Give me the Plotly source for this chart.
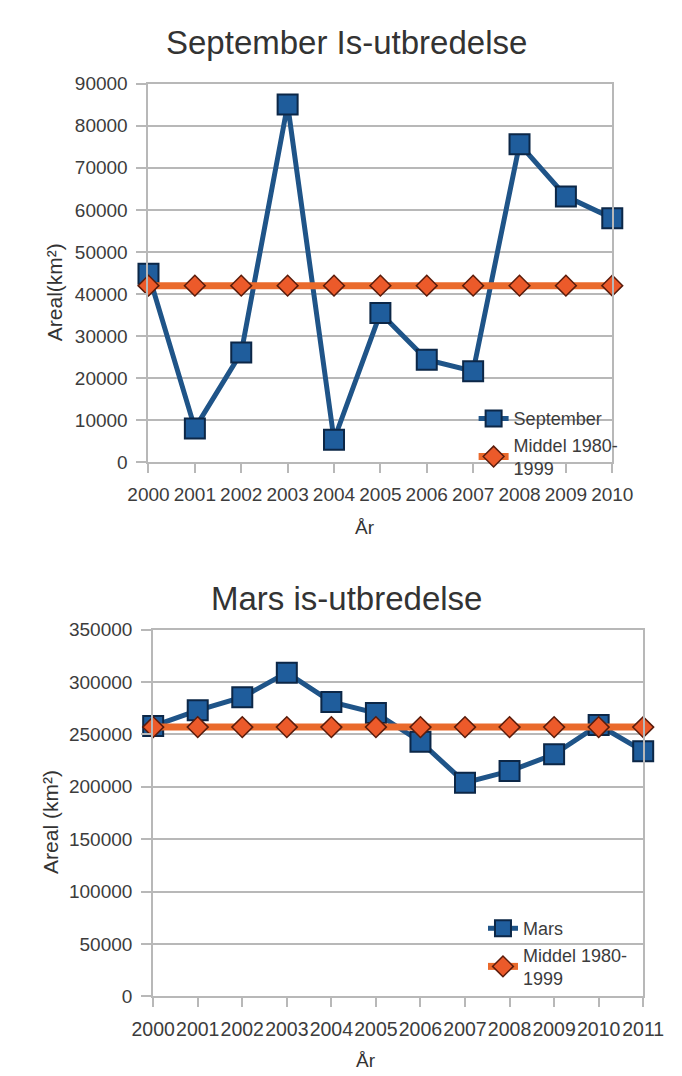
import plotly.graph_objects as go

# ---- data ----
years_sep = [2000, 2001, 2002, 2003, 2004, 2005, 2006, 2007, 2008, 2009, 2010]
sep_values = [44800, 8100, 26100, 85000, 5400, 35500, 24400, 21700, 75600, 63200, 58000]
sep_mean = [42000] * len(years_sep)

years_mar = [2000, 2001, 2002, 2003, 2004, 2005, 2006, 2007, 2008, 2009, 2010, 2011]
mar_values = [258000, 273000, 285500, 309000, 281000, 270500, 243000, 204000, 215000, 231000, 259000, 234000]
mar_mean = [257000] * len(years_mar)

title_sep = "September Is-utbredelse"
title_mar = "Mars is-utbredelse"
ytitle_sep = "Areal(km²)"
ytitle_mar = "Areal (km²)"
xtitle = "År"
name_sep = "September"
name_mar = "Mars"
name_mean = "Middel 1980-<br>1999"

W, H = 682, 1076
FONT = "Liberation Sans, Arial, sans-serif"
BLUE_LINE = "#1f5488"
BLUE_FILL = "#1f5d9c"
BLUE_EDGE = "#0c2747"
ORANGE_LINE = "#ea6a2c"
ORANGE_FILL = "#ec5a2a"
ORANGE_EDGE = "#5a1c0c"
GRID = "#b8b8b8"
TXT = "#3c3c3c"

def px_x(p):
    return p / W

def px_y(p):
    return 1 - p / H

fig = go.Figure()

def add_series(x, y, name, xa, ya, legend, blue):
    if blue:
        fig.add_trace(go.Scatter(
            x=x, y=y, name=name, mode="lines+markers", xaxis=xa, yaxis=ya,
            legend=legend, cliponaxis=False,
            line=dict(color=BLUE_LINE, width=5),
            marker=dict(symbol="square", size=20, color=BLUE_FILL,
                        line=dict(color=BLUE_EDGE, width=2))))
    else:
        fig.add_trace(go.Scatter(
            x=x, y=y, name=name, mode="lines+markers", xaxis=xa, yaxis=ya,
            legend=legend, cliponaxis=False,
            line=dict(color=ORANGE_LINE, width=7),
            marker=dict(symbol="diamond", size=16, color=ORANGE_FILL,
                        line=dict(color=ORANGE_EDGE, width=1.5))))

add_series(years_sep, sep_values, name_sep, "x", "y", "legend", True)
add_series(years_sep, sep_mean, name_mean, "x", "y", "legend", False)
add_series(years_mar, mar_values, name_mar, "x2", "y2", "legend2", True)
add_series(years_mar, mar_mean, name_mean, "x2", "y2", "legend2", False)

def xaxis(domain, years, anchor, fsize):
    return dict(domain=domain, anchor=anchor, range=[years[0], years[-1]],
                tickvals=years, ticktext=[str(v) for v in years], tickangle=0,
                showgrid=False, zeroline=False, showline=True, mirror=True,
                linecolor=GRID, linewidth=2, ticks="outside", ticklen=9,
                tickwidth=2, tickcolor=GRID, ticklabelstandoff=5,
                tickfont=dict(family=FONT, size=fsize, color=TXT))

def yaxis(domain, rng, dtick, anchor, fsize):
    return dict(domain=domain, anchor=anchor, range=rng, dtick=dtick,
                tickformat="d", showgrid=True, gridcolor=GRID, gridwidth=2,
                zeroline=False, showline=True, mirror=True, linecolor=GRID,
                linewidth=2, ticks="outside", ticklen=10, tickwidth=2,
                tickcolor=GRID, ticklabelstandoff=5,
                tickfont=dict(family=FONT, size=fsize, color=TXT))

fig.update_layout(
    width=W, height=H, margin=dict(l=0, r=0, t=0, b=0),
    paper_bgcolor="white", plot_bgcolor="white", showlegend=True,
    xaxis=xaxis([px_x(135), px_x(630)], years_sep, "y", 19),
    yaxis=yaxis([px_y(461.5), px_y(75)], [0, 90000], 10000, "x", 19),
    xaxis2=xaxis([px_x(140), px_x(663)], years_mar, "y2", 19.5),
    yaxis2=yaxis([px_y(1006), px_y(632)], [0, 350000], 50000, "x2", 19),
    legend=dict(x=px_x(482), y=px_y(398), xanchor="left", yanchor="top",
                bgcolor="rgba(0,0,0,0)", tracegroupgap=0, itemwidth=30,
                font=dict(family=FONT, size=18, color=TXT)),
    legend2=dict(x=px_x(492), y=px_y(918), xanchor="left", yanchor="top",
                 bgcolor="rgba(0,0,0,0)", tracegroupgap=0, itemwidth=30,
                 font=dict(family=FONT, size=18, color=TXT)),
)

annots = [
    dict(text=title_sep, x=px_x(346), y=px_y(33), size=33),
    dict(text=title_mar, x=px_x(346), y=px_y(600), size=33),
    dict(text=xtitle, x=px_x(366), y=px_y(528), size=19),
    dict(text=xtitle, x=px_x(367), y=px_y(1071), size=19),
]
for a in annots:
    fig.add_annotation(text=a["text"], x=a["x"], y=a["y"], xref="paper", yref="paper",
                       xanchor="center", yanchor="middle", showarrow=False,
                       font=dict(family=FONT, size=a["size"], color="#333333"))
fig.add_annotation(text=ytitle_sep, x=px_x(35), y=px_y(288), xref="paper", yref="paper",
                   textangle=-90, showarrow=False, xanchor="center", yanchor="middle",
                   font=dict(family=FONT, size=21, color="#333333"))
fig.add_annotation(text=ytitle_mar, x=px_x(31), y=px_y(828), xref="paper", yref="paper",
                   textangle=-90, showarrow=False, xanchor="center", yanchor="middle",
                   font=dict(family=FONT, size=21, color="#333333"))

fig.write_html("out.html", config={"displayModeBar": False},
               post_script="document.body.style.margin='0';")
